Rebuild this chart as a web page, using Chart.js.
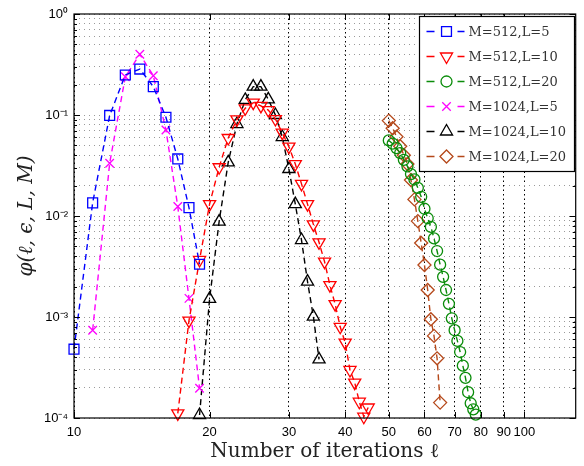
<!DOCTYPE html>
<html><head><meta charset="utf-8">
<script src="https://cdn.jsdelivr.net/npm/chart.js@4"></script>
<style>html,body{margin:0;padding:0;background:#fff}</style>
</head><body>
<canvas id="c" width="584" height="466"></canvas>
<script>
// ---- tick values ----
const xTickValues = [10, 20, 30, 40, 50, 60, 70, 80, 90, 100];
const yDecades = [1e-4, 1e-3, 1e-2, 1e-1, 1];
const yMinorMultipliers = [2, 3, 4, 5, 6, 7, 8, 9];

// ---- series ----
const seriesLabels = ['M=512,L=5', 'M=512,L=10', 'M=512,L=20', 'M=1024,L=5', 'M=1024,L=10', 'M=1024,L=20'];

const iters_512_5 = [10, 11, 12, 13, 14, 15, 16, 17, 18, 19];
const phi_512_5 = [4.8e-4, 0.0135, 0.099, 0.249, 0.285, 0.191, 0.095, 0.0367, 0.0121, 0.00333];

const iters_512_10 = [17, 18, 19, 20, 21, 22, 23, 24, 25, 26, 27, 28, 29, 30, 31, 32, 33, 34, 35, 36, 37, 38, 39, 40, 41, 42, 43, 44, 45];
const phi_512_10 = [1.11e-4, 9.2e-4, 3.67e-3, 0.0131, 0.0304, 0.0592, 0.0906, 0.1165, 0.1324, 0.123, 0.112, 0.0912, 0.0668, 0.0486, 0.0327, 0.0208, 0.0131, 8.27e-3, 5.49e-3, 3.53e-3, 2.07e-3, 1.34e-3, 8.0e-4, 5.57e-4, 2.99e-4, 2.24e-4, 1.45e-4, 1.03e-4, 1.27e-4];

const iters_512_20 = [50, 51, 52, 53, 54, 55, 56, 57, 58, 59, 60, 61, 62, 63, 64, 65, 66, 67, 68, 69, 70, 71, 72, 73, 74, 75, 76, 77, 78];
const phi_512_20 = [0.056, 0.052, 0.047, 0.042, 0.036, 0.031, 0.026, 0.023, 0.019, 0.0155, 0.0118, 0.0095, 0.0078, 0.006, 0.0045, 0.0033, 0.0025, 0.00185, 0.00135, 0.00097, 0.00074, 0.00058, 0.00045, 0.00033, 0.00025, 0.00018, 0.00014, 0.000122, 0.000108];

const iters_1024_5 = [11, 12, 13, 14, 15, 16, 17, 18, 19];
const phi_1024_5 = [7.4e-4, 0.0333, 0.239, 0.399, 0.245, 0.071, 0.0124, 0.00153, 1.97e-4];

const iters_1024_10 = [19, 20, 21, 22, 23, 24, 25, 26, 27, 28, 29, 30, 31, 32, 33, 34, 35];
const phi_1024_10 = [1.07e-4, 1.51e-3, 8.79e-3, 0.034, 0.0814, 0.141, 0.191, 0.191, 0.143, 0.1, 0.0605, 0.0292, 0.0131, 5.78e-3, 2.24e-3, 1.01e-3, 3.81e-4];

const iters_1024_20 = [50, 51, 52, 53, 54, 55, 56, 57, 58, 59, 60, 61, 62, 63, 64, 65];
const phi_1024_20 = [0.088, 0.074, 0.061, 0.049, 0.040, 0.0327, 0.0227, 0.0146, 8.9e-3, 5.4e-3, 3.27e-3, 1.85e-3, 9.5e-4, 6.5e-4, 3.9e-4, 1.42e-4];

// ---- helpers ----
const SUP = {'0':'\u2070','1':'\u00B9','2':'\u00B2','3':'\u00B3','4':'\u2074','5':'\u2075','6':'\u2076','7':'\u2077','8':'\u2078','9':'\u2079','-':'\u207B'};
const toSup = s => String(s).split('').map(ch => SUP[ch] || ch).join('');
const isDecade = v => Math.abs(Math.log10(v) - Math.round(Math.log10(v))) < 1e-9;

function makeSet(label, xs, ys, color, style, radius, rotation) {
  return {
    label,
    data: xs.map((x, i) => ({x, y: ys[i]})),
    borderColor: color,
    backgroundColor: 'rgba(0,0,0,0)',
    borderWidth: 1.4,
    borderDash: [6, 4],
    pointStyle: style,
    pointRadius: radius,
    pointHoverRadius: radius,
    pointRotation: rotation,
    pointBorderWidth: 1.3,
    pointBorderColor: color,
    pointBackgroundColor: 'rgba(0,0,0,0)',
    showLine: true,
    tension: 0,
    clip: false
  };
}

const datasets = [
  makeSet(seriesLabels[0], iters_512_5, phi_512_5, '#0000ff', 'rect', 7, 0),
  makeSet(seriesLabels[1], iters_512_10, phi_512_10, '#ff0000', 'triangle', 7, 180),
  makeSet(seriesLabels[2], iters_512_20, phi_512_20, '#0a8c0a', 'circle', 5.5, 0),
  makeSet(seriesLabels[3], iters_1024_5, phi_1024_5, '#ff00ff', 'crossRot', 6, 0),
  makeSet(seriesLabels[4], iters_1024_10, phi_1024_10, '#000000', 'triangle', 7, 0),
  makeSet(seriesLabels[5], iters_1024_20, phi_1024_20, '#b5481a', 'rectRot', 6.5, 0)
];

// frame + inward ticks
const framePlugin = {
  id: 'frame',
  afterDatasetsDraw(chart) {
    const ctx = chart.ctx, a = chart.chartArea;
    ctx.save();
    ctx.strokeStyle = '#000';
    ctx.lineWidth = 1.2;
    ctx.setLineDash([]);
    ctx.strokeRect(a.left, a.top, a.right - a.left, a.bottom - a.top);
    ctx.lineWidth = 1;
    ctx.beginPath();
    const ys = chart.scales.y;
    ys.ticks.forEach(t => {
      const p = Math.round(ys.getPixelForValue(t.value)) + 0.5;
      const len = isDecade(t.value) ? 6 : 3;
      ctx.moveTo(a.left, p); ctx.lineTo(a.left + len, p);
      ctx.moveTo(a.right, p); ctx.lineTo(a.right - len, p);
    });
    const xs = chart.scales.x;
    xs.ticks.forEach(t => {
      const p = Math.round(xs.getPixelForValue(t.value)) + 0.5;
      ctx.moveTo(p, a.bottom); ctx.lineTo(p, a.bottom - 6);
      ctx.moveTo(p, a.top); ctx.lineTo(p, a.top + 6);
    });
    ctx.stroke();
    ctx.restore();
  }
};

// boxed legend inside the plot, top right
const boxLegend = {
  id: 'boxLegend',
  afterDraw(chart) {
    const ctx = chart.ctx, a = chart.chartArea;
    const ds = chart.data.datasets;
    const w = 155, rowH = 25, h = ds.length * rowH + 5;
    const x0 = Math.round(a.right - w - 2) + 0.5, y0 = Math.round(a.top + 2) + 0.5;
    ctx.save();
    ctx.fillStyle = '#fff';
    ctx.fillRect(x0, y0, w, h);
    ctx.strokeStyle = '#000';
    ctx.lineWidth = 1.2;
    ctx.setLineDash([]);
    ctx.strokeRect(x0, y0, w, h);
    ds.forEach((d, i) => {
      const cy = y0 + 15 + i * rowH;
      ctx.strokeStyle = d.borderColor;
      ctx.lineWidth = d.borderWidth;
      ctx.setLineDash([]);
      ctx.beginPath();
      ctx.moveTo(x0 + 7, cy); ctx.lineTo(x0 + 15, cy);
      ctx.moveTo(x0 + 38, cy); ctx.lineTo(x0 + 45, cy);
      ctx.stroke();
      ctx.fillStyle = 'rgba(0,0,0,0)';
      ctx.lineWidth = d.pointBorderWidth;
      Chart.helpers.drawPoint(ctx, {pointStyle: d.pointStyle, rotation: d.pointRotation, radius: d.pointRadius, borderWidth: d.pointBorderWidth}, x0 + 27, cy);
      ctx.fillStyle = '#333';
      ctx.font = '13px "DejaVu Serif"';
      ctx.textBaseline = 'middle';
      ctx.textAlign = 'left';
      ctx.fillText(d.label, x0 + 49, cy + 1);
    });
    ctx.restore();
  }
};

new Chart(document.getElementById('c'), {
  type: 'line',
  data: { datasets },
  plugins: [framePlugin, boxLegend],
  options: {
    responsive: false,
    animation: false,
    devicePixelRatio: 1,
    layout: { padding: { top: 14, right: 7, left: 0, bottom: 0 } },
    plugins: { legend: { display: false }, tooltip: { enabled: false } },
    scales: {
      x: {
        type: 'logarithmic',
        min: 10, max: 130,
        afterBuildTicks: s => { s.ticks = xTickValues.map(v => ({value: v, major: true})); },
        afterFit: s => { s.height = 48; },
        ticks: {
          autoSkip: false, maxRotation: 0, padding: 7,
          color: '#000',
          font: { family: '"Liberation Sans", Arial, sans-serif', size: 13 },
          callback: v => String(v)
        },
        grid: { color: '#000', lineWidth: 1, drawTicks: false },
        border: { display: false, dash: [1.5, 3] },
        title: {
          display: true, text: 'Number of iterations \u2113', color: '#222',
          font: { family: '"DejaVu Serif", serif', size: 20 },
          padding: { top: 0, bottom: 2 }
        }
      },
      y: {
        type: 'logarithmic',
        min: 1e-4, max: 1,
        afterBuildTicks: s => {
          const t = [];
          yDecades.forEach((d, i) => {
            t.push({value: d, major: true});
            if (i < yDecades.length - 1) yMinorMultipliers.forEach(m => t.push({value: m * d, major: false}));
          });
          s.ticks = t;
        },
        afterFit: s => { s.width = 74; },
        ticks: {
          autoSkip: false, padding: 6,
          color: '#000',
          font: { family: '"Liberation Sans", Arial, sans-serif', size: 13 },
          callback: v => isDecade(v) ? '10' + toSup(Math.round(Math.log10(v))) : ''
        },
        grid: { color: '#9a9a9a', lineWidth: 1, drawTicks: false },
        border: { display: false, dash: [1, 4] },
        title: {
          display: true, text: '\u03C6(\u2113, \u03F5, L, M)', color: '#222',
          font: { family: '"DejaVu Serif", serif', size: 20, style: 'italic' },
          padding: { top: 15, bottom: 0 }
        }
      }
    }
  }
});
</script>
</body></html>
